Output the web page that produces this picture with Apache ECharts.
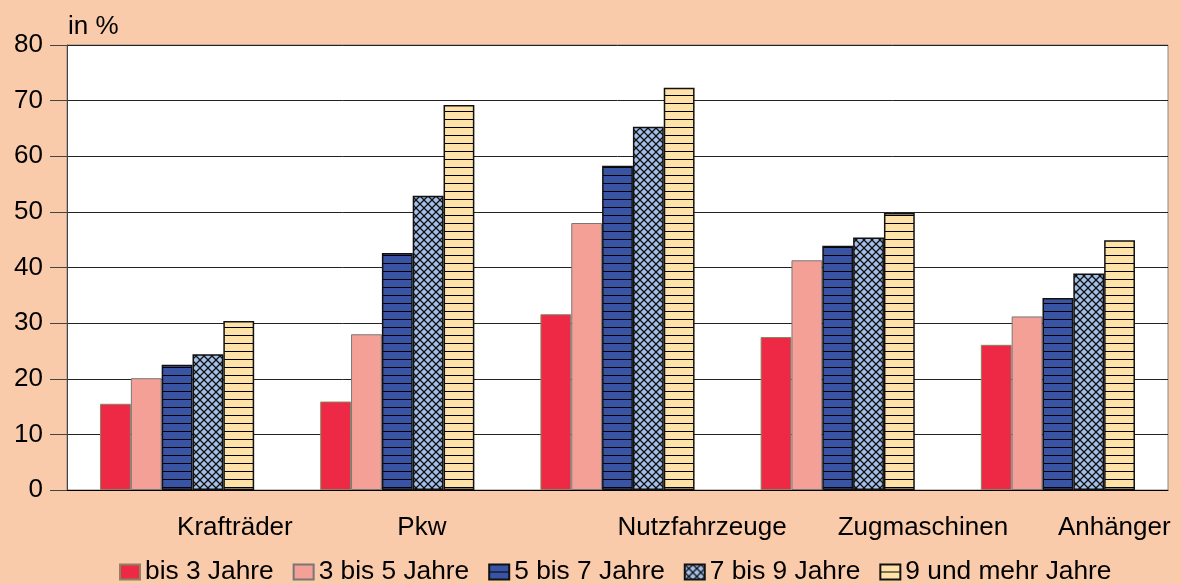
<!DOCTYPE html>
<html>
<head>
<meta charset="utf-8">
<script src="https://cdn.jsdelivr.net/npm/echarts@6/dist/echarts.min.js"></script>
<style>
  html, body { margin: 0; padding: 0; background: #FACBAA; }
  #main { width: 1181px; height: 584px; }
</style>
</head>
<body>
<div id="main"></div>
<script type="text/javascript">
var categories = ['Krafträder', 'Pkw', 'Nutzfahrzeuge', 'Zugmaschinen', 'Anhänger'];
var seriesNames = ['bis 3 Jahre', '3 bis 5 Jahre', '5 bis 7 Jahre', '7 bis 9 Jahre', '9 und mehr Jahre'];
var bis3 = [15.5, 15.9, 31.6, 27.5, 26.1];
var bis5 = [20.1, 28.0, 48.0, 41.3, 31.2];
var bis7 = [22.5, 42.6, 58.3, 43.9, 34.5];
var bis9 = [24.4, 52.9, 65.3, 45.4, 38.9];
var mehr = [30.4, 69.2, 72.3, 49.8, 44.9];
var yTicks = [0, 10, 20, 30, 40, 50, 60, 70, 80];

// Schraffuren als Canvas-Muster
function stripes(bg) {
    var c = document.createElement('canvas');
    c.width = 8; c.height = 8;
    var ctx = c.getContext('2d');
    ctx.fillStyle = bg;
    ctx.fillRect(0, 0, 8, 8);
    ctx.fillStyle = '#000';
    ctx.fillRect(0, 7, 8, 1.5);
    return { image: c, repeat: 'repeat' };
}
function cross(bg) {
    var c = document.createElement('canvas');
    c.width = 8; c.height = 8;
    var ctx = c.getContext('2d');
    ctx.fillStyle = bg;
    ctx.fillRect(0, 0, 8, 8);
    ctx.strokeStyle = '#111';
    ctx.lineWidth = 1.3;
    ctx.beginPath();
    ctx.moveTo(0, 0); ctx.lineTo(8, 8);
    ctx.moveTo(8, 0); ctx.lineTo(0, 8);
    ctx.stroke();
    return { image: c, repeat: 'repeat' };
}

var styles = [
    { color: '#EE2946', borderColor: '#8A8462', borderWidth: 1 },
    { color: '#F5A096', borderColor: '#777', borderWidth: 1 },
    { color: stripes('#3A54A5'), borderColor: '#111', borderWidth: 1.5 },
    { color: cross('#A4BFE8'), borderColor: '#111', borderWidth: 1.5 },
    { color: stripes('#FFE2A7'), borderColor: '#111', borderWidth: 1.5 }
];
var values = [bis3, bis5, bis7, bis9, mehr];

var series = [];
for (var i = 0; i < values.length; i++) {
    series.push({
        name: seriesNames[i],
        type: 'bar',
        data: values[i],
        barGap: '0%',
        barCategoryGap: '30%',
        itemStyle: styles[i],
        emphasis: { disabled: true }
    });
}

var myChart = echarts.init(document.getElementById('main'));
var option = {
    backgroundColor: '#FACBAA',
    animation: false,
    textStyle: { fontFamily: 'Liberation Sans, Arial, sans-serif', color: '#000' },
    title: {
        text: 'in %',
        left: 63,
        top: 9,
        textStyle: { fontSize: 26, fontWeight: 'normal', color: '#000', fontFamily: 'Liberation Sans' }
    },
    grid: {
        left: 67, right: 13, top: 45, bottom: 94,
        show: true,
        backgroundColor: '#fff',
        borderColor: '#888',
        borderWidth: 1
    },
    legend: {
        data: seriesNames,
        icon: 'rect',
        left: 119,
        top: 559,
        padding: 0,
        itemWidth: 20,
        itemHeight: 15,
        itemGap: 19,
        textStyle: { fontSize: 26.3, color: '#000', fontFamily: 'Liberation Sans' }
    },
    xAxis: {
        type: 'category',
        data: categories,
        axisLine: { lineStyle: { color: '#000', width: 1 } },
        axisTick: { alignWithLabel: true, length: 15, lineStyle: { color: '#000' } },
        axisLabel: {
            interval: 0, hideOverlap: false,
            align: 'left', margin: 25, fontSize: 26, color: '#000', fontFamily: 'Liberation Sans'
        }
    },
    yAxis: {
        type: 'value',
        min: yTicks[0],
        max: yTicks[yTicks.length - 1],
        interval: 10,
        axisLine: { show: true, lineStyle: { color: '#444' } },
        axisTick: { show: true, length: 17, lineStyle: { color: '#444' } },
        axisLabel: { margin: 24, fontSize: 26, color: '#000', fontFamily: 'Liberation Sans' },
        splitLine: { lineStyle: { color: '#222', width: 1 } }
    },
    series: series
};
myChart.setOption(option);
</script>
</body>
</html>
